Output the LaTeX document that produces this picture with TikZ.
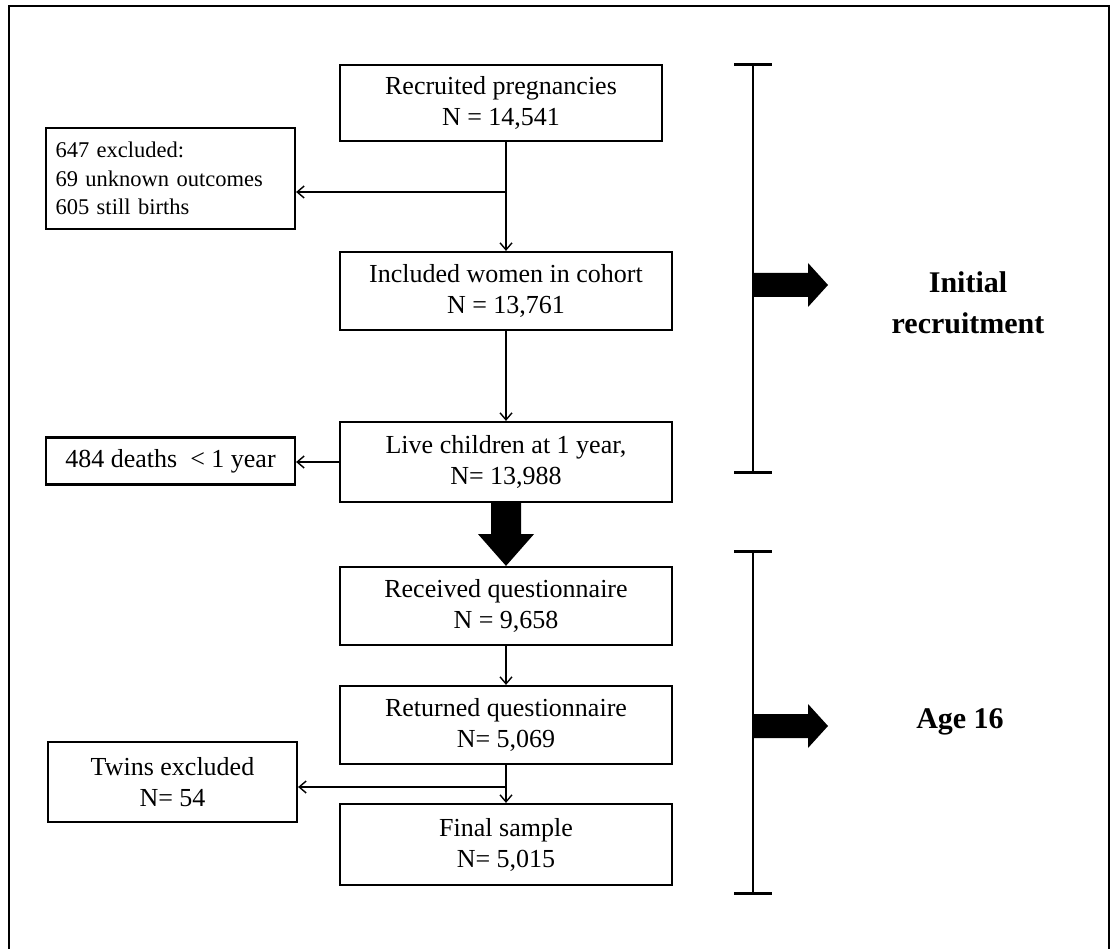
\documentclass[tikz,border=0pt]{standalone}
\usepackage{fontspec}
\setmainfont{Liberation Serif}
\usetikzlibrary{arrows.meta,calc}
\begin{document}
\begin{tikzpicture}[x=1pt,y=-1pt,
  box/.style={draw, line width=2.2pt, minimum width=332pt, minimum height=78pt, align=center, font=\fontsize{26}{31}\selectfont, inner sep=0pt},
  side/.style={draw, line width=2.2pt, minimum width=249pt, inner sep=0pt},
  conn/.style={line width=1.4pt, -{Straight Barb[length=7pt,width=12pt,line width=1.4pt]}},
  plain/.style={line width=1.4pt},
  bracket/.style={line width=2pt},
  lbl/.style={font=\bfseries\fontsize{30}{41}\selectfont, align=center}]
\useasboundingbox (0,0) rectangle (1114,949);
\draw[line width=2pt] (9,949) -- (9,6) -- (1109,6) -- (1109,949);

% main column
\node[box, minimum width=322pt, minimum height=76pt] (rec) at (501,103) {Recruited pregnancies\\N = 14,541};
\node[box] (inc) at (506,291) {Included women in cohort\\N = 13,761};
\node[box, minimum height=80pt] (live) at (506,462) {Live children at 1 year,\\N= 13,988};
\node[box] (recv) at (506,606) {Received questionnaire\\N = 9,658};
\node[box] (ret) at (506,725) {Returned questionnaire\\N= 5,069};
\node[box, minimum height=81pt] (fin) at (506,844.5) {Final sample\\N= 5,015};

% side boxes
\node[side, minimum height=101pt, align=left, text width=230pt, font=\fontsize{22.5}{28.5}\selectfont] (exc) at (170.5,178.5) {647 excluded:\\69 unknown outcomes\\605 still births};
\node[side, minimum height=47pt, font=\fontsize{26}{31}\selectfont] (dth) at (170.5,461) {484 deaths\ \ {<} 1 year};
\node[side, minimum height=80pt, align=center, font=\fontsize{26}{31}\selectfont] (twn) at (172.5,782) {Twins excluded\\N= 54};

% connectors
\coordinate (j1) at (506,192);
\draw[conn] (rec.south -| inc.north) -- (inc.north);
\draw[conn] (j1) -- (j1 -| exc.east);
\draw[conn] (inc.south) -- (live.north);
\draw[conn] (live.west) -- (live.west -| dth.east);
\draw[conn] (recv.south) -- (ret.north);
\coordinate (j2) at (506,787);
\draw[conn] (ret.south) -- (fin.north);
\draw[conn] (j2) -- (j2 -| twn.east);

% big down arrow
\fill ($(live.south)+(-15,0)$) -- ($(live.south)+(-15,31)$) -- ($(live.south)+(-28,31)$) -- (recv.north)
  -- ($(live.south)+(28,31)$) -- ($(live.south)+(15,31)$) -- ($(live.south)+(15,0)$) -- cycle;

% brackets
\coordinate (t1) at (753,65);
\coordinate (b1) at (753,472);
\coordinate (t2) at (753,551);
\coordinate (b2) at (753,893);
\draw[bracket] (t1) -- (b1);
\draw[bracket] (t2) -- (b2);
\draw[bracket, line width=3pt] ($(t1)+(-19,0)$) -- ($(t1)+(19,0)$);
\draw[bracket, line width=3pt] ($(b1)+(-19,0)$) -- ($(b1)+(19,0)$);
\draw[bracket, line width=3pt] ($(t2)+(-19,0)$) -- ($(t2)+(19,0)$);
\draw[bracket, line width=3pt] ($(b2)+(-19,0)$) -- ($(b2)+(19,0)$);

% right arrows
\coordinate (a1) at (753,285);
\coordinate (a2) at (753,726);
\foreach \a in {a1,a2}{
  \fill ($(\a)+(0,-12)$) -- ($(\a)+(55,-12)$) -- ($(\a)+(55,-22)$) -- ($(\a)+(75,0)$)
    -- ($(\a)+(55,22)$) -- ($(\a)+(55,12)$) -- ($(\a)+(0,12)$) -- cycle;
}

% labels
\node[lbl] (l1) at (968,302.5) {Initial\\recruitment};
\node[lbl] (l2) at (960,722) {Age 16};
\end{tikzpicture}
\end{document}
